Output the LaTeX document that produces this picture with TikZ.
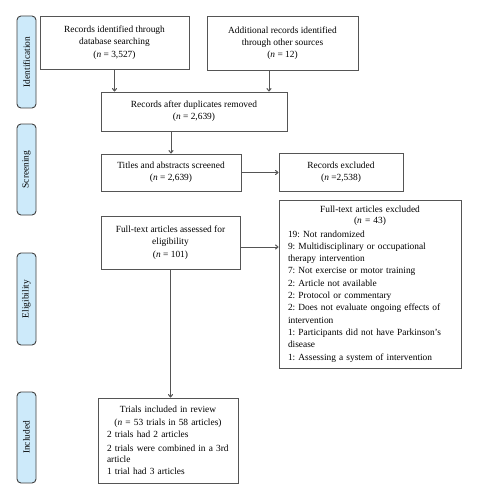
\documentclass[tikz,border=0pt]{standalone}
\usepackage{fontspec}
\setmainfont{Liberation Serif}
\usetikzlibrary{arrows.meta,calc}
\definecolor{lblue}{HTML}{CDEAFA}
\definecolor{lnc}{HTML}{555555}
\frenchspacing
\begin{document}
\begin{tikzpicture}[x=1pt,y=-1pt,
  every node/.style={font=\fontsize{9.4}{12.3}\selectfont\frenchspacing, inner sep=0pt},
  box/.style={draw=lnc, line width=0.9pt, fill=white, align=center},
  side/.style={draw=black!75, line width=0.9pt, fill=lblue, rounded corners=4pt, minimum width=19pt},
  arr/.style={draw=lnc, line width=1pt, -{To[length=3.5pt,width=5pt]}}]
\useasboundingbox (0,0) rectangle (477,500);
\fill[white] (0,0) rectangle (477,500);
% side labels
\node[side, minimum height=92pt] (sid) at (26.5,62) {};
\node[rotate=90] (tid) at (sid.center) {Identification};
\node[side, minimum height=91pt] (ssc) at (26.5,169.5) {};
\node[rotate=90] (tsc) at (ssc.center) {Screening};
\node[side, minimum height=92pt] (sel) at (26.5,299) {};
\node[rotate=90] (tel) at (sel.center) {Eligibility};
\node[side, minimum height=91pt] (sin) at (26.5,437.5) {};
\node[rotate=90] (tin) at (sin.center) {Included};
% boxes
\node[box, minimum width=149pt, minimum height=53pt] (b1) at (114.5,42.5)
  {Records identified through\\ database searching\\ (\textit{n} = 3,527)};
\node[box, minimum width=151pt, minimum height=54pt] (b2) at (282.5,43)
  {Additional records identified\\ through other sources\\ (\textit{n} = 12)};
\node[box, minimum width=186pt, minimum height=39pt] (b3) at (194,111.5)
  {Records after duplicates removed\\ (\textit{n} = 2,639)};
\node[box, minimum width=140pt, minimum height=37pt] (b4) at (171,172.5)
  {Titles and abstracts screened\\ (\textit{n} = 2,639)};
\node[box, minimum width=124pt, minimum height=38pt] (rex) at (341,172)
  {Records excluded\\ (\textit{n} =2,538)};
\node[box, minimum width=139pt, minimum height=53pt] (b5) at (170.5,242.5)
  {Full-text articles assessed for\\ eligibility\\ (\textit{n} = 101)};
\node[box, minimum width=182pt, minimum height=168pt, text width=164pt, align=left] (fex) at (370,284)
  {\centering Full-text articles excluded\\[-1.5pt] (\textit{n} = 43)\par\vspace{1.5pt}
   \raggedright
   19: Not randomized\\
   9: Multidisciplinary or occupational\\ therapy intervention\\
   7: Not exercise or motor training\\
   2: Article not available\\
   2: Protocol or commentary\\
   2: Does not evaluate ongoing effects of\\ intervention\\
   1: Participants did not have Parkinson's\\ disease\\
   1: Assessing a system of intervention\par};
\node[box, minimum width=140pt, minimum height=85pt, text width=130pt, align=left] (b6) at (168,440.5)
  {\centering Trials included in review\\ (\textit{n} = 53 trials in 58 articles)\par
   \raggedright\leftskip=4pt
   2 trials had 2 articles\\[1.5pt]
   2 trials were combined in a 3rd\\[-1pt] article\\
   1 trial had 3 articles\par};
% connectors
\draw[arr] (b1.south) -- (b1.south |- b3.north);
\draw[arr] ([xshift=-13.5pt]b2.south) -- ([xshift=-13.5pt]b2.south |- b3.north);
\draw[arr] (b4.north |- b3.south) -- (b4.north);
\draw[arr] (b4.east) -- (b4.east -| rex.west);
\draw[arr] ([yshift=-4.5pt]b5.east) -- ([yshift=-4.5pt]b5.east -| fex.west);
\draw[arr] (b5.south) -- (b5.south |- b6.north);
\end{tikzpicture}
\end{document}
